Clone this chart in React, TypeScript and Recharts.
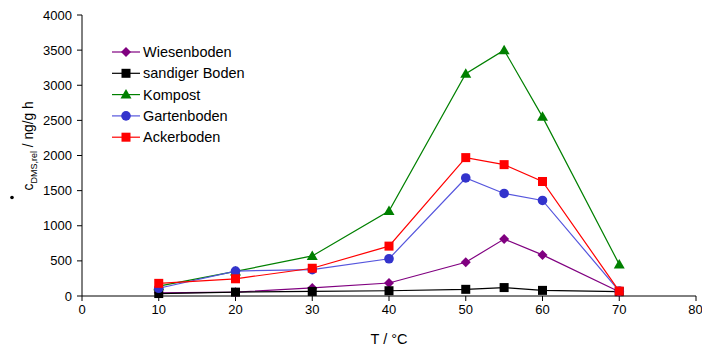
import React from 'react';
import { LineChart, Line, XAxis, YAxis, Legend } from 'recharts';

const temps = [10, 20, 30, 40, 50, 55, 60, 70];
const wiesenboden = [45, 55, 115, 185, 480, 810, 585, 60];
const sandigerBoden = [35, 55, 65, 75, 95, 120, 80, 62];
const kompost = [140, 350, 570, 1210, 3165, 3500, 2550, 450];
const gartenboden = [110, 355, 375, 530, 1680, 1460, 1360, 70];
const ackerboden = [180, 245, 395, 710, 1970, 1870, 1630, 70];

const xTicks = [0, 10, 20, 30, 40, 50, 60, 70, 80];
const yTicks = [0, 500, 1000, 1500, 2000, 2500, 3000, 3500, 4000];

const data = temps.map((t, i) => ({
  t,
  wiesen: wiesenboden[i],
  sandig: sandigerBoden[i],
  kompost: kompost[i],
  garten: gartenboden[i],
  acker: ackerboden[i]
}));

type Shape = 'diamond' | 'square' | 'triangle' | 'circle';

const series: { key: string; name: string; stroke: string; fill: string; shape: Shape }[] = [
  { key: 'wiesen', name: 'Wiesenboden', stroke: '#800080', fill: '#800080', shape: 'diamond' },
  { key: 'sandig', name: 'sandiger Boden', stroke: '#000000', fill: '#000000', shape: 'square' },
  { key: 'kompost', name: 'Kompost', stroke: '#008000', fill: '#008000', shape: 'triangle' },
  { key: 'garten', name: 'Gartenboden', stroke: '#5555dd', fill: '#3333cc', shape: 'circle' },
  { key: 'acker', name: 'Ackerboden', stroke: '#ff0000', fill: '#ff0000', shape: 'square' }
];

function Marker({ shape, x, y, fill }: { shape: Shape; x: number; y: number; fill: string }) {
  switch (shape) {
    case 'diamond':
      return <polygon points={`${x},${y - 5} ${x + 5},${y} ${x},${y + 5} ${x - 5},${y}`} fill={fill} />;
    case 'square':
      return <rect x={x - 4.5} y={y - 4.5} width={9} height={9} fill={fill} />;
    case 'triangle':
      return <polygon points={`${x},${y - 5.5} ${x + 5.5},${y + 4} ${x - 5.5},${y + 4}`} fill={fill} />;
    default:
      return <circle cx={x} cy={y} r={4.8} fill={fill} />;
  }
}

const makeDot = (shape: Shape, fill: string) => (props: any) => (
  <g key={`dot-${props.index}`}>
    <Marker shape={shape} x={props.cx} y={props.cy} fill={fill} />
  </g>
);

function LegendBox() {
  return (
    <svg width={150} height={110} style={{ overflow: 'visible' }}>
      {series.map((s, i) => {
        const y = 10 + i * 21.3;
        return (
          <g key={s.key}>
            <line x1={0} x2={28} y1={y} y2={y} stroke={s.stroke} strokeWidth={1.2} />
            <Marker shape={s.shape} x={14} y={y} fill={s.fill} />
            <text x={31} y={y + 5} fontSize={14.5} fill="#000">
              {s.name}
            </text>
          </g>
        );
      })}
    </svg>
  );
}

// y-axis title: c with time-derivative dot, subscript DMS,rel
function YLabel(props: any) {
  const vb = props.viewBox;
  const cy = vb.y + vb.height / 2 - 10;
  return (
    <g transform={`translate(33,${cy}) rotate(-90)`}>
      <text x={-45} y={0} fontSize={13.8} fill="#000">
        c<tspan dy={4} fontSize={9}>DMS,rel</tspan>
        <tspan dy={-4}> / ng/g h</tspan>
      </text>
      <circle cx={-52} cy={-21} r={1.8} fill="#000" />
    </g>
  );
}

export default function App() {
  return (
    <div style={{ position: 'absolute', left: 0, top: 0 }}>
      <LineChart
        width={702}
        height={347}
        data={data}
        margin={{ top: 15, right: 6, bottom: 0, left: 0 }}
        style={{ fontFamily: '"Liberation Sans", Arial, sans-serif' }}
      >
        <XAxis
          dataKey="t"
          type="number"
          domain={[0, 80]}
          ticks={xTicks}
          height={51}
          stroke="#000"
          tickSize={5}
          tickMargin={4}
          tick={{ fill: '#000', fontSize: 13 }}
          label={{ value: 'T / °C', position: 'insideBottom', offset: 3, fill: '#000', fontSize: 14.5 }}
        />
        <YAxis
          type="number"
          domain={[0, 4000]}
          ticks={yTicks}
          width={82}
          stroke="#000"
          tickSize={5}
          tickMargin={5}
          tick={{ fill: '#000', fontSize: 13 }}
          label={{ content: YLabel }}
        />
        <Legend
          layout="vertical"
          align="center"
          verticalAlign="middle"
          content={() => <LegendBox />}
          wrapperStyle={{ left: 112, top: 42, width: 150, height: 110 }}
        />
        {series.map((s) => (
          <Line
            key={s.key}
            dataKey={s.key}
            name={s.name}
            stroke={s.stroke}
            strokeWidth={1.2}
            dot={makeDot(s.shape, s.fill)}
            activeDot={false}
            isAnimationActive={false}
          />
        ))}
      </LineChart>
    </div>
  );
}
